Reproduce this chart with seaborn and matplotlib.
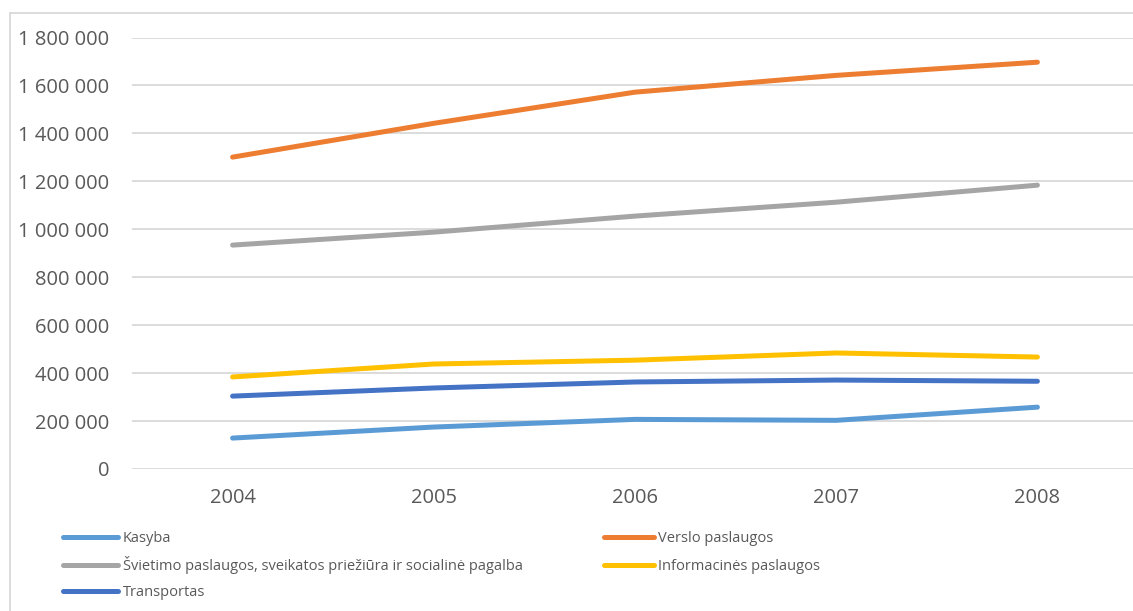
import matplotlib
matplotlib.use("Agg")
import matplotlib.pyplot as plt
import matplotlib.ticker as mticker
from matplotlib.lines import Line2D
import pandas as pd
import seaborn as sns

# Employment by sector, 2004-2008
years = [2004, 2005, 2006, 2007, 2008]
series_names = [
    "Kasyba",
    "Verslo paslaugos",
    "Švietimo paslaugos, sveikatos priežiūra ir socialinė pagalba",
    "Informacinės paslaugos",
    "Transportas",
]
kasyba = [129000, 175000, 207000, 203000, 258000]
verslo = [1301000, 1442000, 1572000, 1642000, 1697000]
svietimo = [934000, 988000, 1055000, 1113000, 1184000]
informacines = [384000, 438000, 454000, 484000, 467000]
transportas = [304000, 338000, 363000, 371000, 366000]
y_ticks = [0, 200000, 400000, 600000, 800000, 1000000, 1200000, 1400000, 1600000, 1800000]

colors = ["#5B9BD5", "#ED7D31", "#A5A5A5", "#FFC000", "#4472C4"]
text_color = "#595959"
grid_color = "#D9D9D9"

values = [kasyba, verslo, svietimo, informacines, transportas]
df = pd.DataFrame(
    [(y, name, v) for name, vals in zip(series_names, values) for y, v in zip(years, vals)],
    columns=["Metai", "Sektorius", "Reikšmė"],
)

sns.set_theme(style="white")
plt.rcParams["font.family"] = ["Open Sans", "DejaVu Sans"]

fig = plt.figure(figsize=(11.33, 6.11), dpi=100)
W, H = 1133, 611
ax_left, ax_right, ax_top, ax_bottom = 132, 1138, 37.5, 469
ax = fig.add_axes([ax_left / W, 1 - ax_bottom / H, (ax_right - ax_left) / W, (ax_bottom - ax_top) / H])

sns.lineplot(
    data=df, x="Metai", y="Reikšmė", hue="Sektorius", hue_order=series_names,
    palette=colors, linewidth=3.6, ax=ax, legend=True, sort=False,
)
for line in ax.get_lines():
    line.set_solid_capstyle("round")

handles, labels = ax.get_legend_handles_labels()
ax.get_legend().remove()
for h in handles:
    h.set_linewidth(3.6)
    h.set_solid_capstyle("round")

ax.set_xlim(2003.5, 2008.5)
ax.set_ylim(0, 1800000)
ax.set_xticks(years)
ax.set_xticklabels([str(y) for y in years])
ax.set_yticks(y_ticks)
ax.yaxis.set_major_formatter(mticker.FuncFormatter(lambda v, p: f"{int(v):,}".replace(",", " ")))
ax.set_xlabel("")
ax.set_ylabel("")
ax.grid(axis="y", color=grid_color, linewidth=1.3)
ax.grid(axis="x", visible=False)
ax.set_axisbelow(True)
for s in ax.spines.values():
    s.set_visible(False)
ax.tick_params(axis="both", length=0, labelsize=14.5, colors=text_color)
ax.tick_params(axis="y", pad=16.5)
ax.tick_params(axis="x", pad=14)

# Legend below the plot: two columns, entries read row by row
leg_kw = dict(
    frameon=False, fontsize=10.5, labelcolor=text_color, handletextpad=0.3,
    borderpad=0, borderaxespad=0, loc="upper left",
)
left_col = [0, 2, 4]
right_col = [1, 3]
leg_left = fig.legend(
    [handles[i] for i in left_col], [labels[i] for i in left_col],
    handlelength=3.8, labelspacing=0.72,
    bbox_to_anchor=(63 / W, 1 - 531 / H), **leg_kw,
)
fig.legend(
    [handles[i] for i in right_col], [labels[i] for i in right_col],
    handlelength=3.4, labelspacing=0.92,
    bbox_to_anchor=(604 / W, 1 - 531 / H), **leg_kw,
)

# Chart area frame
fig.add_artist(Line2D([10 / W, 10 / W], [0, 1 - 13 / H], transform=fig.transFigure,
                      color=grid_color, linewidth=1.3))
fig.add_artist(Line2D([10 / W, 1], [1 - 13 / H, 1 - 13 / H], transform=fig.transFigure,
                      color=grid_color, linewidth=1.3))

fig.savefig("out.png", dpi=100)
